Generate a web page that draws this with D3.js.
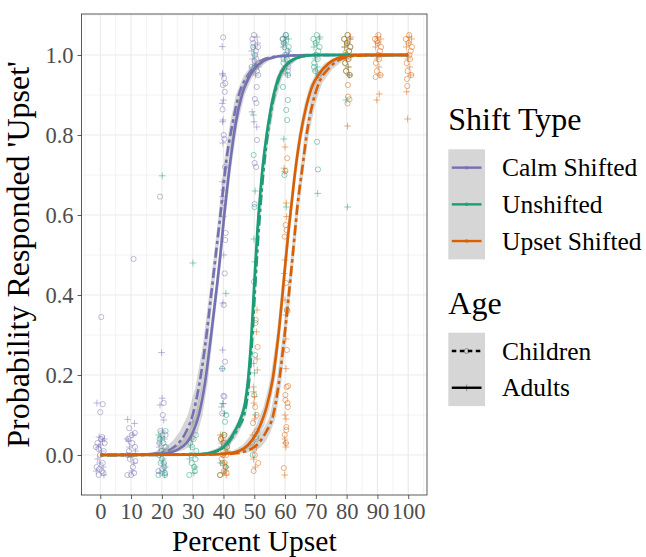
<!DOCTYPE html>
<html>
<head>
<meta charset="utf-8">
<script src="https://cdn.jsdelivr.net/npm/d3@7"></script>
<style>
  body { margin: 0; background: #fff; }
  text { font-family: "Liberation Serif", "Times New Roman", serif; }
</style>
</head>
<body>
<svg id="chart"></svg>
<script>
const shiftTypes = ["Calm Shifted", "Unshifted", "Upset Shifted"];
const ageGroups = ["Children", "Adults"];
const xTicks = [0, 10, 20, 30, 40, 50, 60, 70, 80, 90, 100];
const yTicks = [0, 0.2, 0.4, 0.6, 0.8, 1.0];

// jittered responses, [percent upset, proportion 'upset']
const calmChildren = [
  [-0.9,0.03],[0.5,-0.04],[1.1,0.01],[-1.2,-0.03],[0.2,0.04],[-0.5,-0.05],[1.4,0.03],[-0.1,0.0],[0.8,-0.02],[-1.4,0.02],[0.3,0.345],[0.8,0.127],[0.0,0.107],[-0.6,0.015],[1.0,-0.045],[0.6,0.045],[-0.3,-0.035],
  [9.1,0.04],[10.6,-0.03],[11.3,0.02],[8.8,-0.05],[10.2,0.05],[9.6,-0.01],[11.0,-0.045],[9.3,0.01],[10.8,0.49],[9.4,0.067],[11.2,0.055],[10.4,0.03],[8.9,0.0],[10.0,-0.05],[11.4,-0.015],
  [19.2,0.03],[20.7,-0.02],[21.2,0.05],[18.9,-0.04],[20.3,0.1],[20.6,0.13],[19.4,0.646],[19.8,0.01],[21.0,-0.05],[19.5,0.06],[20.9,0.02],[20.1,-0.035],
  [39.9,1.044],[40.2,0.942],[39.8,0.925],[40.4,0.908],[39.7,0.864],[40.6,0.929],[40.1,0.8],[40.3,0.79],[40.5,0.72],[40.2,0.63],[40.6,0.5375],[40.4,0.454],[40.1,0.375],[40.5,0.233],[40.3,0.146],[40.0,0.148],[39.6,0.104],[40.7,0.555],[39.9,0.03],
  [49.4,1.04],[50.7,0.99],[51.2,1.02],[49.1,0.97],[50.3,1.0],[50.9,0.96],[49.7,1.03],[51.3,0.95],[50.1,0.985],[50.8,0.92],[50.2,0.89],[50.7,0.88],[50.9,0.7875],[50.1,0.73],[50.6,0.72],[50.1,0.6275],[49.9,1.05],[50.5,1.01],
  [59.3,1.04],[60.5,1.0],[61.1,0.97],[59.8,1.02],[60.9,0.96],[59.5,0.99],[60.2,1.05]
];
const calmAdults = [
  [-1.1,0.13],[-0.6,0.02],[0.9,-0.03],[1.3,0.04],[-1.3,-0.04],[0.4,0.01],[-0.2,-0.02],[0.7,0.035],[-0.8,-0.01],[1.2,-0.05],[0.1,0.025],[-0.4,0.045],
  [8.9,0.089],[11.1,0.079],[9.5,0.02],[10.9,-0.02],[8.7,0.04],[10.3,-0.04],[11.4,0.01],[9.9,-0.005],[9.2,0.035],[10.6,0.05],
  [19.9,0.256],[20.1,0.142],[19.4,0.125],[20.6,0.0875],[19.1,0.02],[21.1,-0.03],[19.7,0.045],[20.4,-0.01],[20.8,0.04],[19.3,-0.045],[20.2,0.06],
  [39.6,1.021],[39.7,0.954],[40.0,0.8875],[39.9,0.8375],[39.8,0.95],[39.6,0.879],[39.7,0.833],[39.8,0.78],[39.6,0.683],[40.0,0.6625],[39.7,0.646],[39.9,0.596],[39.8,0.38],[39.7,0.2625],[39.6,0.216],[39.9,0.128],[39.4,0.12],[40.1,0.5],
  [49.2,1.01],[50.5,0.98],[51.1,1.03],[49.8,0.96],[50.9,1.045],[49.5,0.99],[51.4,0.97],[50.2,1.02],[49.3,0.858],[49.9,0.833],[50.8,0.82],[50.4,0.95],
  [59.6,1.03],[60.7,0.98],[61.2,1.01],[59.2,0.96],[60.3,1.04]
];
const unshiftedChildren = [
  [19.3,0.04],[20.8,-0.03],[21.3,0.02],[18.9,-0.05],[20.2,0.05],[19.6,-0.02],[21.0,-0.045],[19.9,0.01],[20.5,0.03],[19.1,0.0],[21.2,0.06],[20.0,-0.01],
  [29.2,0.03],[30.7,-0.04],[31.2,0.01],[28.9,-0.05],[30.3,0.04],[29.7,-0.02],[31.0,0.05],[29.5,0.0],[30.5,-0.03],[29.9,0.02],[30.9,-0.01],
  [39.2,0.04],[40.7,-0.03],[41.1,0.02],[38.9,-0.05],[40.3,0.05],[39.6,0.216],[40.5,0.083],[40.9,0.1],[39.9,0.0],[40.4,-0.02],[41.3,0.03],
  [49.9,0.433],[50.3,0.25],[50.1,0.62],[49.8,0.75],[50.4,0.33],[50.0,0.15],[50.2,0.97],[49.6,1.02],[50.7,0.04],[49.5,0.0],
  [59.2,1.04],[60.6,0.99],[61.2,1.02],[59.8,0.96],[60.3,1.05],[61.0,0.95],[59.5,0.98],[60.8,1.01],[59.3,0.92],[60.9,0.8875],[60.4,0.8625],[60.7,0.8375],[60.1,0.71],[59.8,0.7],[60.6,0.3625],[60.0,1.0],[59.6,1.03],
  [69.2,1.04],[70.6,0.99],[71.2,1.02],[69.8,0.96],[70.3,1.05],[71.0,0.95],[69.5,0.98],[70.8,1.01],[69.9,1.03],[70.4,0.783],[70.7,0.714],[70.1,1.0],[69.4,0.97],
  [79.2,1.04],[80.6,0.99],[81.2,1.02],[79.8,0.96],[80.3,1.05],[81.0,0.95],[79.5,0.98],[80.8,1.01],[80.1,1.03],[80.9,0.889],[79.7,1.0]
];
const unshiftedAdults = [
  [20.1,0.698],[19.4,0.03],[20.6,-0.04],[21.1,0.01],[19.0,0.05],[20.3,-0.02],[19.8,0.04],[20.9,-0.05],[19.6,0.0],
  [30.1,0.48],[30.1,0.083],[29.3,0.02],[30.8,-0.03],[29.6,0.04],[31.1,0.0],[30.4,-0.045],[29.0,-0.01],
  [40.8,0.404],[39.8,0.129],[40.3,0.104],[39.4,0.02],[40.9,-0.03],[39.7,0.05],[41.2,0.01],[40.1,-0.045],[39.1,-0.02],
  [49.9,0.54],[50.2,0.483],[49.8,0.229],[50.1,0.205],[50.3,0.66],[49.7,0.85],[50.4,0.1],[50.0,1.0],[49.4,0.97],
  [59.4,1.02],[60.5,0.97],[61.1,1.04],[59.9,0.99],[60.8,0.95],[60.2,1.03],[59.6,0.79],[60.4,0.62],[61.3,1.0],[60.0,1.045],
  [69.4,1.02],[70.5,0.97],[71.1,1.04],[69.9,0.99],[70.8,0.95],[70.2,1.03],[69.6,1.0],[70.6,0.654],[71.3,1.045],[70.0,0.96],
  [79.4,1.02],[80.5,0.97],[81.1,1.04],[79.9,0.99],[80.8,0.95],[80.2,1.03],[79.6,1.0],[79.8,0.8875],[80.3,0.62]
];
const upsetChildren = [
  [39.2,0.04],[40.7,-0.03],[41.2,0.02],[38.9,-0.05],[40.3,0.05],[39.6,-0.02],[41.0,-0.045],[39.9,0.01],[40.5,0.03],[39.4,-0.01],[40.9,0.0],[40.1,-0.04],
  [50.5,0.3375],[51.1,0.27],[50.3,0.12],[50.8,0.1],[49.6,0.08],[50.9,0.06],[49.3,0.03],[50.2,0.0],[51.3,-0.02],[49.8,-0.04],[50.6,0.045],[50.0,0.015],
  [60.7,0.742],[60.2,0.575],[60.5,0.5625],[59.9,0.546],[60.3,0.43],[60.8,0.36],[60.6,0.2625],[60.5,0.17],[60.1,0.1375],[60.8,0.13],[60.4,0.07],[59.9,0.05],[60.3,0.03],[61.0,0.1725],[60.1,0.15],[60.9,0.12],[60.4,0.0625],[59.6,-0.0325],
  [79.2,1.04],[80.6,0.99],[81.2,1.02],[79.8,0.96],[80.3,1.05],[81.0,0.95],[79.5,0.98],[80.8,1.01],[80.1,1.03],[80.4,0.925],[80.5,0.896],[80.3,0.879],[79.6,1.005],
  [89.2,1.04],[90.6,0.99],[91.2,1.02],[89.8,0.96],[90.3,1.05],[91.0,0.95],[89.5,0.98],[90.8,1.01],[90.1,1.03],[89.4,0.945],[90.4,1.0],[89.9,1.035],
  [99.2,1.04],[100.6,0.99],[101.2,1.02],[99.8,0.96],[100.3,1.05],[101.0,0.95],[99.5,0.98],[100.8,1.01],[100.1,1.03],[99.7,0.9225],[99.6,0.94],[100.4,1.0]
];
const upsetAdults = [
  [39.4,0.03],[40.6,-0.04],[41.1,0.01],[39.0,0.05],[40.2,-0.02],[39.8,0.04],[40.9,-0.05],[39.6,0.0],[40.4,0.02],
  [50.9,0.3625],[50.7,0.308],[50.9,0.24],[51.0,0.2125],[49.7,0.17],[49.8,0.158],[50.1,0.146],[49.9,0.13],[50.2,0.09],[49.5,0.05],[50.6,0.02],[49.8,-0.01],[50.4,-0.03],
  [60.0,0.77],[59.7,0.717],[59.9,0.708],[60.4,0.63],[60.5,0.596],[60.0,0.4875],[59.7,0.454],[60.0,0.3875],[60.2,0.35],[60.3,0.29],[60.3,0.216],[60.3,0.09],[60.3,0.02],[60.0,0.1],[59.9,0.04],[60.1,0.03],[59.9,-0.05],
  [79.4,1.02],[80.5,0.97],[81.1,1.04],[79.9,0.99],[80.8,0.95],[80.2,1.03],[79.6,1.0],[80.3,0.8225],[81.3,1.045],
  [89.4,1.02],[90.5,0.97],[91.1,1.04],[89.9,0.99],[90.8,0.95],[90.2,1.03],[89.6,1.0],[89.8,0.8875],[90.6,0.9025],[90.0,1.045],
  [99.4,1.02],[100.5,0.97],[101.1,1.04],[99.9,0.99],[100.8,0.95],[100.2,1.03],[99.6,1.0],[99.5,0.908],[99.8,0.84],[100.3,1.045]
];

// fitted curves: [percent, probability, CI half-width in percent units]
const calmChildrenFit = [[0,0,3],[10,0.0004,3],[15,0.0015,3],[20,0.006,3],[24,0.02,2.8],[26,0.035,2.5],[28,0.06,2.1],[30,0.1,1.6],[32,0.17,1.1],[34,0.27,0.8],[36,0.4,0.65],[37.5,0.5,0.6],[39,0.6,0.6],[41,0.74,0.7],[43,0.83,0.85],[45,0.9,1],[48,0.95,1.3],[52,0.985,1.6],[56,0.995,2],[60,0.998,2.2],[70,1,2.2],[100,1,2.2]];
const calmAdultsFit = [[0,0,2.5],[10,0.0002,2.5],[20,0.003,2.5],[25,0.013,2.4],[28,0.03,2],[30,0.055,1.6],[32,0.1,1.2],[34,0.18,0.85],[36,0.3,0.6],[38,0.43,0.5],[39,0.5,0.5],[40,0.58,0.5],[42,0.72,0.55],[44,0.83,0.7],[46,0.9,0.9],[48,0.94,1.1],[50,0.965,1.3],[53,0.985,1.6],[56,0.994,1.9],[60,0.998,2],[70,1,2],[100,1,2]];
const unshiftedChildrenFit = [[0,0,1.5],[30,0.001,1.5],[35,0.004,1.5],[40,0.018,1.4],[43,0.045,1.2],[45,0.07,0.9],[47,0.11,0.6],[48,0.16,0.45],[49,0.25,0.35],[50,0.38,0.3],[51,0.51,0.3],[52,0.62,0.35],[53,0.71,0.4],[54,0.78,0.5],[56,0.88,0.7],[58,0.94,0.9],[60,0.97,1.1],[63,0.99,1.3],[66,0.997,1.4],[70,1,1.4],[100,1,1.4]];
const unshiftedAdultsFit = [[0,0,1.2],[30,0.001,1.2],[35,0.004,1.2],[40,0.02,1.1],[43,0.05,0.9],[45,0.08,0.7],[46,0.1,0.55],[47,0.13,0.45],[48,0.19,0.35],[49,0.29,0.3],[50,0.43,0.25],[51,0.56,0.25],[52,0.66,0.3],[53,0.74,0.35],[54,0.8,0.4],[56,0.89,0.55],[58,0.945,0.75],[60,0.972,0.9],[63,0.99,1.1],[66,0.997,1.2],[70,1,1.2],[100,1,1.2]];
const upsetChildrenFit = [[0,0,2.5],[40,0.002,2.5],[45,0.005,2.5],[48,0.012,2.4],[50,0.02,2.2],[52,0.035,1.8],[54,0.06,1.4],[56,0.095,1],[58,0.18,0.75],[60,0.31,0.6],[62,0.46,0.55],[63,0.54,0.55],[64,0.62,0.55],[66,0.74,0.6],[67,0.8,0.7],[69,0.88,0.9],[71,0.93,1.1],[74,0.965,1.4],[77,0.985,1.7],[80,0.995,2],[85,0.999,2],[100,1,2]];
const upsetAdultsFit = [[0,0,2],[30,0.0005,2],[40,0.003,2],[45,0.01,2],[48,0.025,1.8],[50,0.045,1.6],[52,0.075,1.3],[54,0.12,1],[56,0.19,0.75],[58,0.31,0.55],[60,0.47,0.5],[61,0.55,0.5],[62,0.62,0.5],[63,0.69,0.5],[64,0.75,0.55],[65,0.8,0.6],[67,0.875,0.75],[69,0.925,0.9],[71,0.952,1.1],[74,0.978,1.3],[77,0.992,1.5],[80,0.997,1.7],[85,1,1.8],[100,1,1.8]];

const colors = { "Calm Shifted": "#7570b3", "Unshifted": "#1b9e77", "Upset Shifted": "#d95f02" };
const childDash = "3.4,3.4,10.2,3.4";

const series = [
  { shift: "Calm Shifted", age: "Children", points: calmChildren, fit: calmChildrenFit },
  { shift: "Calm Shifted", age: "Adults", points: calmAdults, fit: calmAdultsFit },
  { shift: "Unshifted", age: "Children", points: unshiftedChildren, fit: unshiftedChildrenFit },
  { shift: "Unshifted", age: "Adults", points: unshiftedAdults, fit: unshiftedAdultsFit },
  { shift: "Upset Shifted", age: "Children", points: upsetChildren, fit: upsetChildrenFit },
  { shift: "Upset Shifted", age: "Adults", points: upsetAdults, fit: upsetAdultsFit }
];

const W = 646, H = 557;
const margin = { top: 14, right: 219, bottom: 62, left: 81.5 };
const width = W - margin.left - margin.right;
const height = H - margin.top - margin.bottom;

const svg = d3.select("#chart").attr("width", W).attr("height", H);
const g = svg.append("g").attr("transform", `translate(${margin.left},${margin.top})`);

const x = d3.scaleLinear().domain([-6.1, 106.1]).range([0, width]);
const y = d3.scaleLinear().domain([-0.1, 1.1025]).range([height, 0]);

svg.append("defs").append("clipPath").attr("id", "panel")
  .append("rect").attr("width", width).attr("height", height);

// grid
const xMinor = d3.range(-5, 110, 10);
const yMinor = [0.1, 0.3, 0.5, 0.7, 0.9, 1.1];
const grid = g.append("g");
grid.selectAll(".xmin").data(xMinor).join("line")
  .attr("x1", d => x(d)).attr("x2", d => x(d)).attr("y1", 0).attr("y2", height)
  .attr("stroke", "#ebebeb").attr("stroke-width", 0.6);
grid.selectAll(".ymin").data(yMinor).join("line")
  .attr("y1", d => y(d)).attr("y2", d => y(d)).attr("x1", 0).attr("x2", width)
  .attr("stroke", "#ebebeb").attr("stroke-width", 0.6);
grid.selectAll(".xmaj").data(xTicks).join("line")
  .attr("x1", d => x(d)).attr("x2", d => x(d)).attr("y1", 0).attr("y2", height)
  .attr("stroke", "#ebebeb").attr("stroke-width", 1.2);
grid.selectAll(".ymaj").data(yTicks).join("line")
  .attr("y1", d => y(d)).attr("y2", d => y(d)).attr("x1", 0).attr("x2", width)
  .attr("stroke", "#ebebeb").attr("stroke-width", 1.2);

const plot = g.append("g").attr("clip-path", "url(#panel)");

// jittered points
series.forEach(s => {
  const col = colors[s.shift];
  if (s.age === "Children") {
    plot.append("g").selectAll("circle").data(s.points).join("circle")
      .attr("cx", d => x(d[0])).attr("cy", d => y(d[1])).attr("r", 2.6)
      .attr("fill", "none").attr("stroke", col).attr("stroke-opacity", 0.6).attr("stroke-width", 0.8);
  } else {
    plot.append("g").selectAll("path").data(s.points).join("path")
      .attr("d", d => `M${x(d[0]) - 3.4},${y(d[1])}H${x(d[0]) + 3.4}M${x(d[0])},${y(d[1]) - 3.4}V${y(d[1]) + 3.4}`)
      .attr("stroke", col).attr("stroke-opacity", 0.6).attr("stroke-width", 0.8);
  }
});

// fitted curves with CI ribbons
const band = d3.area()
  .x0(d => x(d[0] - d[2]))
  .x1(d => x(d[0] + d[2]))
  .y(d => y(d[1]));
const line = d3.line()
  .x(d => x(d[0]))
  .y(d => y(d[1]))
  .curve(d3.curveMonotoneX);

series.forEach(s => {
  plot.append("path").attr("d", band(s.fit))
    .attr("fill", "#999999").attr("fill-opacity", 0.4);
  plot.append("path").attr("d", line(s.fit))
    .attr("fill", "none").attr("stroke", colors[s.shift]).attr("stroke-width", 2.6)
    .attr("stroke-dasharray", s.age === "Children" ? childDash : null);
});

// panel border
g.append("rect").attr("width", width).attr("height", height)
  .attr("fill", "none").attr("stroke", "#333333").attr("stroke-width", 0.8);

// axes
const xAxis = g.append("g").attr("transform", `translate(0,${height})`)
  .call(d3.axisBottom(x).tickValues(xTicks).tickSize(4).tickPadding(22).tickFormat(d3.format("d")));
const yAxis = g.append("g")
  .call(d3.axisLeft(y).tickValues(yTicks).tickSize(4).tickPadding(4).tickFormat(d3.format(".1f")));
[xAxis, yAxis].forEach(a => {
  a.select(".domain").remove();
  a.selectAll(".tick line").attr("stroke", "#333333").attr("stroke-width", 0.8);
  a.selectAll(".tick text").attr("fill", "#4d4d4d").style("font-size", "22.5px")
    .style("font-family", "'Liberation Serif', serif");
});
xAxis.selectAll(".tick text").attr("dy", null).attr("y", 24);

// axis titles
svg.append("text").attr("x", margin.left + width / 2).attr("y", 550.5)
  .attr("text-anchor", "middle").style("font-size", "29.5px").attr("fill", "#000")
  .text("Percent Upset");
svg.append("text").attr("transform", `translate(29,${margin.top + height / 2}) rotate(-90)`)
  .attr("text-anchor", "middle").style("font-size", "32px").attr("fill", "#000")
  .text("Probability Responded 'Upset'");

// legends
const keyX = 448.3, keySize = 36.7, labelX = 502;
const legend = svg.append("g");

legend.append("text").attr("x", keyX).attr("y", 130).style("font-size", "32px").text("Shift Type");
legend.append("rect").attr("x", keyX).attr("y", 149.3).attr("width", keySize).attr("height", keySize * shiftTypes.length)
  .attr("fill", "#d6d6d6");
shiftTypes.forEach((st, i) => {
  const cy = 149.3 + keySize * (i + 0.5);
  legend.append("line").attr("x1", keyX + 3.5).attr("x2", keyX + keySize - 3.5).attr("y1", cy).attr("y2", cy)
    .attr("stroke", colors[st]).attr("stroke-width", 2.4);
  legend.append("circle").attr("cx", keyX + keySize / 2).attr("cy", cy).attr("r", 2)
    .attr("fill", colors[st]).attr("fill-opacity", 0.5);
  legend.append("text").attr("x", labelX).attr("y", cy + 8.6).style("font-size", "25.5px").text(st);
});

legend.append("text").attr("x", keyX).attr("y", 314).style("font-size", "32px").text("Age");
legend.append("rect").attr("x", keyX).attr("y", 332.7).attr("width", keySize).attr("height", keySize * ageGroups.length)
  .attr("fill", "#d6d6d6");
ageGroups.forEach((ag, i) => {
  const cy = 332.7 + keySize * (i + 0.5);
  const cx = keyX + keySize / 2;
  legend.append("line").attr("x1", keyX + 3.5).attr("x2", keyX + keySize - 3.5).attr("y1", cy).attr("y2", cy)
    .attr("stroke", "#000").attr("stroke-width", 2.4)
    .attr("stroke-dasharray", ag === "Children" ? "4.5,3.5" : null);
  if (ag === "Children") {
    legend.append("circle").attr("cx", cx).attr("cy", cy).attr("r", 2.4)
      .attr("fill", "none").attr("stroke", "#000").attr("stroke-opacity", 0.5).attr("stroke-width", 0.7);
  } else {
    legend.append("path").attr("d", `M${cx - 3.3},${cy}H${cx + 3.3}M${cx},${cy - 3.3}V${cy + 3.3}`)
      .attr("stroke", "#000").attr("stroke-opacity", 0.5).attr("stroke-width", 0.7);
  }
  legend.append("text").attr("x", labelX).attr("y", cy + 8.6).style("font-size", "25.5px").text(ag);
});
</script>
</body>
</html>
